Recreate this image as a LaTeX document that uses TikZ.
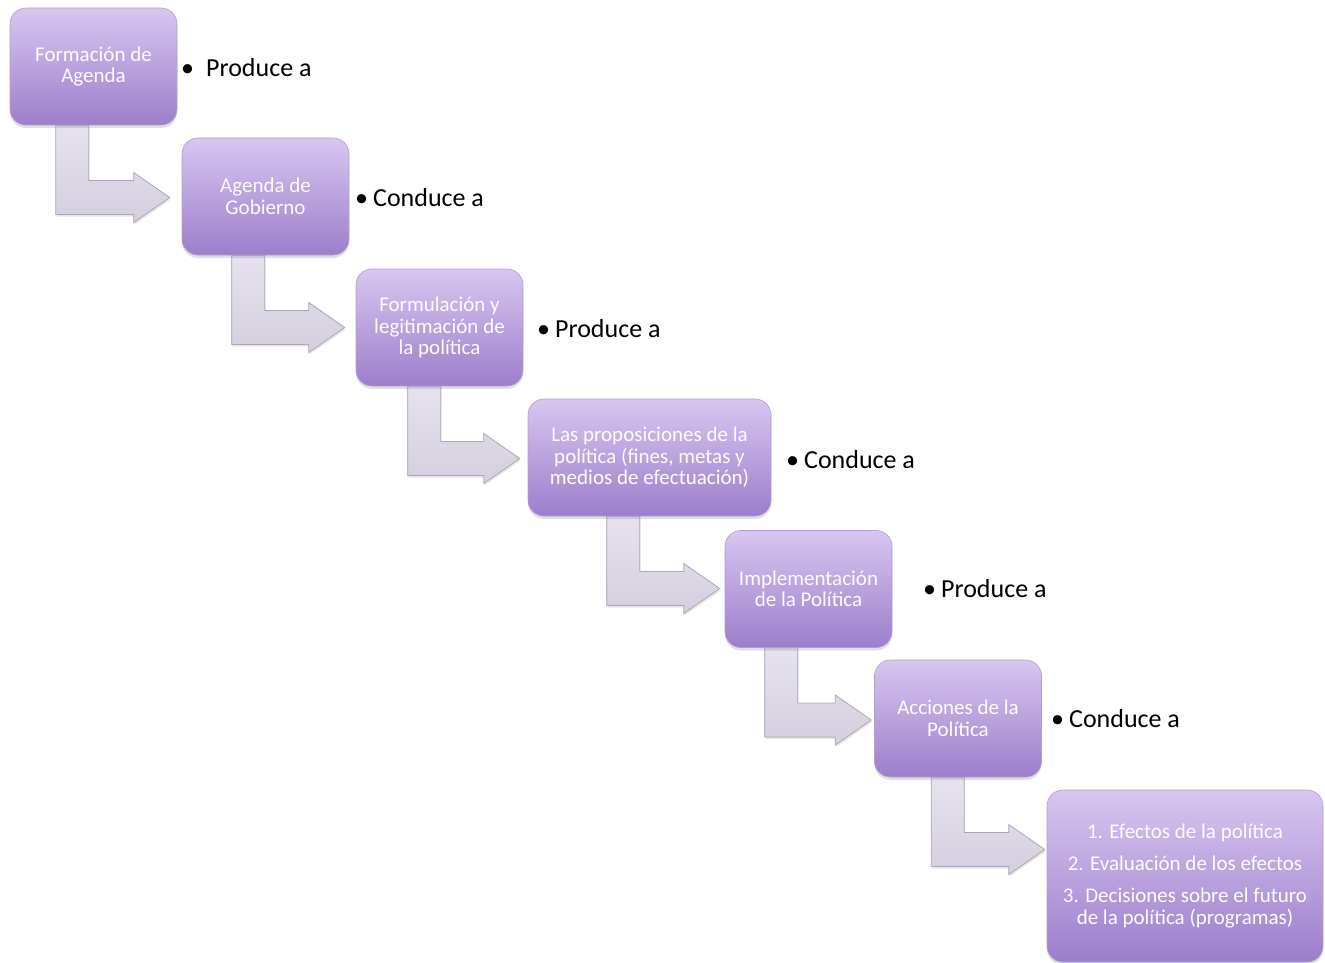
\documentclass[tikz,border=0pt]{standalone}
\usepackage{fontspec}
\setmainfont{Carlito}
\usetikzlibrary{calc,shadows,backgrounds}

\definecolor{cajaarriba}{HTML}{D8C6F0}
\definecolor{cajaabajo}{HTML}{9C7ECB}
\definecolor{cajaborde}{HTML}{B29BD8}
\definecolor{flechaclara}{HTML}{E6E2EE}
\definecolor{flechaoscura}{HTML}{D4CEDE}
\definecolor{flechaborde}{HTML}{ACA5B8}

% flecha en L: origen, destino, desplazamiento del fuste, hueco ante la punta
\newcommand{\flecha}[4]{%
  \path[flechaL] let \p1=(#1.south west), \p2=(#1.center), \p3=(#2.west) in
    (\x1+#3pt,\y1) -- (\x1+#3pt,\y2-148pt) -- (\x3-#4pt-36pt,\y2-148pt)
    -- (\x3-#4pt-36pt,\y2-156pt) -- (\x3-#4pt,\y2-131pt)
    -- (\x3-#4pt-36pt,\y2-106pt) -- (\x3-#4pt-36pt,\y2-114pt)
    -- (\x1+#3pt+33pt,\y2-114pt) -- (\x1+#3pt+33pt,\y1) -- cycle;}

\begin{document}
\begin{tikzpicture}[
  x=1pt, y=-1pt,
  caja/.style={rectangle, rounded corners=16pt, top color=cajaarriba, bottom color=cajaabajo,
    draw=cajaborde, line width=0.6pt, minimum width=167pt, minimum height=117pt,
    align=center, text=white!95!cajaarriba, font=\fontsize{21}{21.5}\selectfont,
    drop shadow={opacity=0.25, shadow xshift=0pt, shadow yshift=-3pt}},
  etiqueta/.style={anchor=west, inner sep=0pt, font=\fontsize{26}{31}\selectfont},
  flechaL/.style={top color=flechaclara, bottom color=flechaoscura, draw=flechaborde,
    line width=0.8pt, line join=miter,
    drop shadow={opacity=0.2, shadow xshift=1pt, shadow yshift=-2pt}}
]
\useasboundingbox (0,0) rectangle (1325,963);

\node[caja] (agenda) at (93.5,66.5) {Formación de\\Agenda};
\node[caja] (gobierno) at (265.5,196.5) {Agenda de\\Gobierno};
\node[caja] (formulacion) at (439.5,327.5) {Formulación y\\legitimación de\\la política};
\node[caja, minimum width=243pt] (proposiciones) at (649.5,457.5) {Las proposiciones de la\\política (fines, metas y\\medios de efectuación)};
\node[caja] (implementacion) at (808.5,589) {Implementación\\de la Política};
\node[caja] (acciones) at (958,718.5) {Acciones de la\\Política};
\node[caja, minimum width=276pt, minimum height=172pt] (efectos) at (1185,876)
  {1. Efectos de la política\\[10pt]2. Evaluación de los efectos\\[11pt]3. Decisiones sobre el futuro\\de la política (programas)};

\node[etiqueta] (p1) at (181,68) {\textbullet\hspace{12pt}Produce a};
\node[etiqueta] (c1) at (355,198) {\textbullet\hspace{5pt}Conduce a};
\node[etiqueta] (p2) at (537,329) {\textbullet\hspace{5pt}Produce a};
\node[etiqueta] (c2) at (786,460) {\textbullet\hspace{5pt}Conduce a};
\node[etiqueta] (p3) at (923,589) {\textbullet\hspace{5pt}Produce a};
\node[etiqueta] (c3) at (1051,719) {\textbullet\hspace{5pt}Conduce a};

\begin{scope}[on background layer]
\flecha{agenda}{gobierno}{46}{12}
\flecha{gobierno}{formulacion}{50}{11}
\flecha{formulacion}{proposiciones}{52}{8}
\flecha{proposiciones}{implementacion}{79}{5}
\flecha{implementacion}{acciones}{40}{3}
\flecha{acciones}{efectos}{57}{2}
\end{scope}
\end{tikzpicture}
\end{document}
